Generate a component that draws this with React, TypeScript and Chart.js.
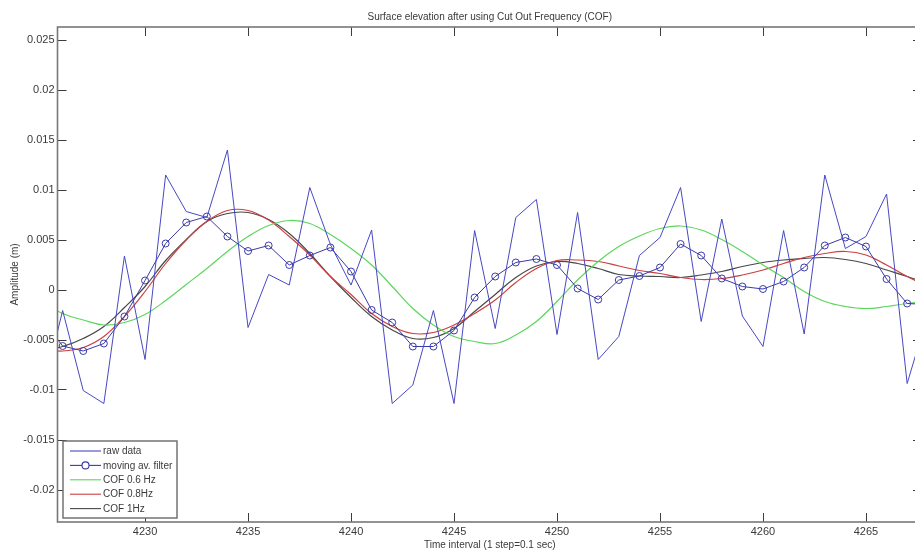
import { useEffect, useRef } from 'react';
import { Chart, registerables } from 'chart.js';

Chart.register(...registerables);

// Sample index (1 step = 0.1 s)
const steps = [
  4225, 4226, 4227, 4228, 4229, 4230, 4231, 4232, 4233, 4234, 4235,
  4236, 4237, 4238, 4239, 4240, 4241, 4242, 4243, 4244, 4245, 4246,
  4247, 4248, 4249, 4250, 4251, 4252, 4253, 4254, 4255, 4256, 4257,
  4258, 4259, 4260, 4261, 4262, 4263, 4264, 4265, 4266, 4267, 4268,
];

// Surface elevation in metres
const rawData = [
  -0.0105, -0.0021, -0.0101, -0.0114, 0.00335, -0.007, 0.01145, 0.0078, 0.0072, 0.01395, -0.0038,
  0.0015, 0.00045, 0.0102, 0.0045, 0.00045, 0.00595, -0.0114, -0.00955, -0.0021, -0.0114, 0.0059,
  -0.0039, 0.0072, 0.009, -0.0045, 0.0077, -0.007, -0.0047, 0.0034, 0.0052, 0.0102, -0.0032,
  0.00705, -0.00265, -0.0057, 0.0059, -0.00445, 0.01145, 0.0041, 0.0053, 0.00955, -0.0094, -0.0025,
];

const movingAverage = [
  -0.003, -0.00565, -0.00615, -0.0054, -0.0027, 0.0009, 0.0046, 0.0067, 0.0073, 0.0053, 0.00385,
  0.0044, 0.00245, 0.0034, 0.0042, 0.0018, -0.00205, -0.0033, -0.0057, -0.0057, -0.0041, -0.0008,
  0.0013, 0.0027, 0.00305, 0.00245, 0.0001, -0.001, 0.00095, 0.00135, 0.0022, 0.00455, 0.0034,
  0.0011, 0.0003, 0.00005, 0.0008, 0.0022, 0.0044, 0.0052, 0.0043, 0.00105, -0.0014, -0.0015,
];

const cof06 = [
  -0.0012, -0.0024, -0.00305, -0.00355, -0.0033, -0.0025, -0.0011, 0.0005, 0.0021, 0.0038, 0.0053,
  0.0064, 0.0069, 0.0066, 0.0055, 0.0041, 0.00245, 0.0003, -0.0019, -0.00355, -0.0047, -0.0052,
  -0.0054, -0.00455, -0.0032, -0.0012, 0.00095, 0.0028, 0.0043, 0.00535, 0.0061, 0.00635, 0.00595,
  0.005, 0.0038, 0.00245, 0.0012, -0.0002, -0.0012, -0.0017, -0.0019, -0.0017, -0.0014, -0.0012,
];

const cof08 = [
  -0.006, -0.00615, -0.0058, -0.0047, -0.0027, -0.0002, 0.0026, 0.00495, 0.0068, 0.0079, 0.0079,
  0.00695, 0.0053, 0.00345, 0.0013, -0.0005, -0.0024, -0.0037, -0.0044, -0.0043, -0.00355, -0.0024,
  -0.00105, 0.0007, 0.0021, 0.0029, 0.00295, 0.0028, 0.00235, 0.0019, 0.0016, 0.0012, 0.001,
  0.0011, 0.00145, 0.00195, 0.0026, 0.0032, 0.0036, 0.0038, 0.00345, 0.00245, 0.0013, 0.0003,
];

const cof1 = [
  -0.0061, -0.0057, -0.0049, -0.0037, -0.0018, 0.0003, 0.0029, 0.005, 0.0068, 0.0076, 0.0077,
  0.007, 0.0056, 0.0036, 0.0013, -0.0008, -0.0027, -0.00405, -0.0049, -0.0048, -0.0039, -0.0022,
  -0.0005, 0.0012, 0.00235, 0.0028, 0.0026, 0.0021, 0.0015, 0.00135, 0.0013, 0.0012, 0.00145,
  0.0018, 0.0023, 0.0027, 0.00295, 0.0031, 0.0032, 0.003, 0.0026, 0.00195, 0.0013, 0.0006,
];

const xTicks = [4230, 4235, 4240, 4245, 4250, 4255, 4260, 4265];
const yTicks = [-0.02, -0.015, -0.01, -0.005, 0, 0.005, 0.01, 0.015, 0.02, 0.025];

const FONT = 'Liberation Sans, Arial, Helvetica, sans-serif';
const TEXT = '#3a3a3a';

const toPoints = (values: number[]) => steps.map((t, i) => ({ x: t, y: values[i] }));

// MATLAB-like axes box with inward tick marks on all four sides
const axesBox = {
  id: 'axesBox',
  afterDatasetsDraw(chart: any) {
    const { ctx, chartArea: a, scales } = chart;
    ctx.save();
    ctx.strokeStyle = '#3c3c3c';
    ctx.lineWidth = 1;
    const len = 9;
    ctx.beginPath();
    for (const v of xTicks) {
      const px = Math.round(scales.x.getPixelForValue(v)) + 0.5;
      ctx.moveTo(px, a.top);
      ctx.lineTo(px, a.top + len);
      ctx.moveTo(px, a.bottom);
      ctx.lineTo(px, a.bottom - len);
    }
    for (const v of yTicks) {
      const py = Math.round(scales.y.getPixelForValue(v)) + 0.5;
      ctx.moveTo(a.left, py);
      ctx.lineTo(a.left + len, py);
      ctx.moveTo(a.right, py);
      ctx.lineTo(a.right - len, py);
    }
    ctx.stroke();
    ctx.strokeStyle = '#777777';
    ctx.lineWidth = 1.6;
    ctx.strokeRect(a.left, a.top, a.right - a.left, a.bottom - a.top);
    ctx.restore();
  },
};

// Legend box in the lower-left corner of the axes
const cornerLegend = {
  id: 'cornerLegend',
  afterDraw(chart: any) {
    const { ctx, chartArea: a } = chart;
    const sets = chart.data.datasets;
    const w = 114;
    const rowH = 14.4;
    const h = 77;
    const x0 = a.left + 5.5;
    const y0 = a.bottom - 4 - h;
    ctx.save();
    ctx.fillStyle = '#ffffff';
    ctx.fillRect(x0, y0, w, h);
    ctx.strokeStyle = '#6a6a6a';
    ctx.lineWidth = 1.4;
    ctx.strokeRect(x0, y0, w, h);
    ctx.font = `10px ${FONT}`;
    ctx.textBaseline = 'middle';
    sets.forEach((ds: any, i: number) => {
      const cy = y0 + 10 + i * rowH;
      ctx.strokeStyle = ds.borderColor;
      ctx.lineWidth = 1.1;
      ctx.beginPath();
      ctx.moveTo(x0 + 7, cy);
      ctx.lineTo(x0 + 38, cy);
      ctx.stroke();
      if (ds.pointRadius > 0) {
        ctx.beginPath();
        ctx.arc(x0 + 22.5, cy, 3.5, 0, Math.PI * 2);
        ctx.fillStyle = '#ffffff';
        ctx.fill();
        ctx.stroke();
      }
      ctx.fillStyle = TEXT;
      ctx.fillText(ds.label, x0 + 40, cy + 0.5);
    });
    ctx.restore();
  },
};

export default function App() {
  const ref = useRef<HTMLCanvasElement | null>(null);

  useEffect(() => {
    if (!ref.current) return;
    const chart = new Chart(ref.current, {
      type: 'line',
      data: {
        datasets: [
          {
            label: 'raw data',
            data: toPoints(rawData),
            borderColor: '#4848c4',
            borderWidth: 1,
            pointRadius: 0,
            tension: 0,
          },
          {
            label: 'moving av. filter',
            data: toPoints(movingAverage),
            borderColor: '#3a3aa6',
            borderWidth: 1,
            pointRadius: 3.5,
            pointBorderWidth: 1,
            pointBackgroundColor: 'rgba(255,255,255,0)',
            pointBorderColor: '#3a3aa6',
            tension: 0,
          },
          {
            label: 'COF 0.6 Hz',
            data: toPoints(cof06),
            borderColor: '#5cd65c',
            borderWidth: 1.2,
            pointRadius: 0,
            tension: 0.4,
          },
          {
            label: 'COF 0.8Hz',
            data: toPoints(cof08),
            borderColor: '#cc4040',
            borderWidth: 1.2,
            pointRadius: 0,
            tension: 0.4,
          },
          {
            label: 'COF 1Hz',
            data: toPoints(cof1),
            borderColor: '#484848',
            borderWidth: 1.2,
            pointRadius: 0,
            tension: 0.4,
          },
        ],
      },
      options: {
        responsive: false,
        maintainAspectRatio: false,
        animation: false,
        events: [],
        layout: { padding: { left: 0, right: 8, top: 0, bottom: 0 } },
        plugins: {
          legend: { display: false },
          tooltip: { enabled: false },
          title: {
            display: true,
            fullSize: false,
            text: 'Surface elevation after using Cut Out Frequency (COF)',
            color: TEXT,
            font: { family: FONT, size: 10, weight: 'normal' },
            padding: { top: 11, bottom: 4 },
          },
        },
        scales: {
          x: {
            type: 'linear',
            min: 4225.75,
            max: 4267.72,
            grid: { display: false, drawTicks: false },
            border: { display: false },
            afterBuildTicks: (s: any) => {
              s.ticks = xTicks.map((v) => ({ value: v }));
            },
            afterFit: (s: any) => {
              s.height = 29;
            },
            ticks: {
              padding: 3,
              autoSkip: false,
              maxRotation: 0,
              color: TEXT,
              font: { family: FONT, size: 11 },
              callback: (v: any) => String(v),
            },
            title: {
              display: true,
              text: 'Time interval (1 step=0.1 sec)',
              color: TEXT,
              font: { family: FONT, size: 10 },
              padding: { top: 0, bottom: 0 },
            },
          },
          y: {
            type: 'linear',
            min: -0.02325,
            max: 0.02625,
            grid: { display: false, drawTicks: false },
            border: { display: false },
            afterBuildTicks: (s: any) => {
              s.ticks = yTicks.map((v) => ({ value: v }));
            },
            afterFit: (s: any) => {
              s.width = 57.5;
            },
            ticks: {
              padding: 3,
              autoSkip: false,
              color: TEXT,
              font: { family: FONT, size: 11 },
              callback: (v: any) => String(v),
            },
            title: {
              display: true,
              text: 'Amplitude (m)',
              color: TEXT,
              font: { family: FONT, size: 10 },
              padding: { top: 9, bottom: 0 },
            },
          },
        },
      },
      plugins: [axesBox, cornerLegend],
    });
    return () => chart.destroy();
  }, []);

  return (
    <div
      style={{
        position: 'fixed',
        left: 0,
        top: 0,
        width: 930,
        height: 551,
        background: '#ffffff',
        overflow: 'hidden',
      }}
    >
      <canvas ref={ref} width={930} height={551} style={{ display: 'block' }} />
    </div>
  );
}
